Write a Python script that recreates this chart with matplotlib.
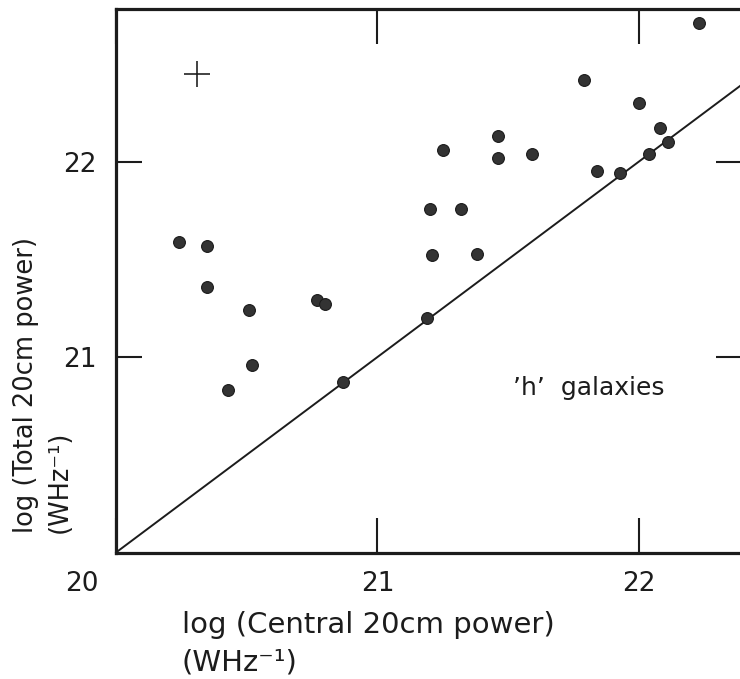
import matplotlib
matplotlib.use("Agg")
import matplotlib.pyplot as plt
import matplotlib.transforms as mtransforms

# ---- data ----
x_central = [20.24, 20.35, 20.35, 20.43, 20.51, 20.52, 20.77, 20.80, 20.87,
             21.19, 21.20, 21.21, 21.32, 21.25, 21.38, 21.46, 21.46, 21.59,
             21.79, 21.84, 21.93, 22.00, 22.04, 22.08, 22.11, 22.23]
y_total = [21.59, 21.57, 21.36, 20.83, 21.24, 20.96, 21.29, 21.27, 20.87,
           21.20, 21.76, 21.52, 21.76, 22.06, 21.53, 22.13, 22.02, 22.04,
           22.42, 21.95, 21.94, 22.30, 22.04, 22.17, 22.10, 22.71]
err_x, err_y = 20.31, 22.45
equal_line = [20, 23]
xticks = [20, 21, 22]
xticklabels = ["20", "21", "22"]
yticks = [21, 22]
yticklabels = ["21", "22"]
xlabel_lines = ["log (Central 20cm power)", "(WHz\u207b\u00b9)"]
ylabel_lines = ["log (Total 20cm power)", "(WHz\u207b\u00b9)"]
annotation = "\u2019h\u2019  galaxies"

W, H = 740, 679
fig = plt.figure(figsize=(W / 100, H / 100), dpi=100)
ink = "#1c1c1c"

def fx(px):
    return px / W

def fy(py):
    return 1 - py / H

ax = fig.add_axes([fx(116), fy(552.5), fx(742) - fx(116), fy(8.5) - fy(552.5)])
ax.set_xlim(20, 22.395)
ax.set_ylim(20, 22.784)

ax.plot(equal_line, equal_line, color=ink, lw=1.4, zorder=2)
ax.plot(x_central, y_total, ls="none", marker="o", ms=8.5,
        mfc="#333333", mec="#1a1a1a", mew=0.8, zorder=3)
ax.plot([err_x], [err_y], ls="none", marker="+", ms=19, mew=1.2,
        color="#222222", zorder=3)

ax.text(21.52, 20.805, annotation, fontsize=18, color=ink,
        family="DejaVu Sans", ha="left", va="baseline")

for s in ax.spines.values():
    s.set_linewidth(2.3)
    s.set_color(ink)

tick_font = "DejaVu Sans"
ax.set_xticks(xticks)
ax.set_xticklabels(xticklabels, fontsize=19, family=tick_font, color=ink)
ax.set_yticks(yticks)
ax.set_yticklabels(yticklabels, fontsize=19, family=tick_font, color=ink)
ax.tick_params(axis="x", direction="in", length=25, width=1.5, color=ink,
               top=True, bottom=True, pad=13)
ax.tick_params(axis="y", direction="in", length=19, width=1.5, color=ink,
               left=True, right=True, pad=14)

# shift the "20" label left of the corner as in the reference
lbl = ax.get_xticklabels()[0]
lbl.set_transform(lbl.get_transform() +
                  mtransforms.ScaledTranslation(-0.34, 0, fig.dpi_scale_trans))

# axis labels as two left-aligned lines
fig.text(fx(182), fy(633), xlabel_lines[0], fontsize=21, color=ink,
         family="DejaVu Sans", ha="left", va="baseline")
fig.text(fx(182), fy(671), xlabel_lines[1], fontsize=21, color=ink,
         family="DejaVu Sans", ha="left", va="baseline")
fig.text(fx(33), fy(533), ylabel_lines[0], fontsize=18.5, color=ink,
         family="DejaVu Sans", ha="left", va="baseline", rotation=90,
         rotation_mode="anchor")
fig.text(fx(67), fy(533), ylabel_lines[1], fontsize=18.5, color=ink,
         family="DejaVu Sans", ha="left", va="baseline", rotation=90,
         rotation_mode="anchor")

fig.savefig("out.png", dpi=100, facecolor="white")
